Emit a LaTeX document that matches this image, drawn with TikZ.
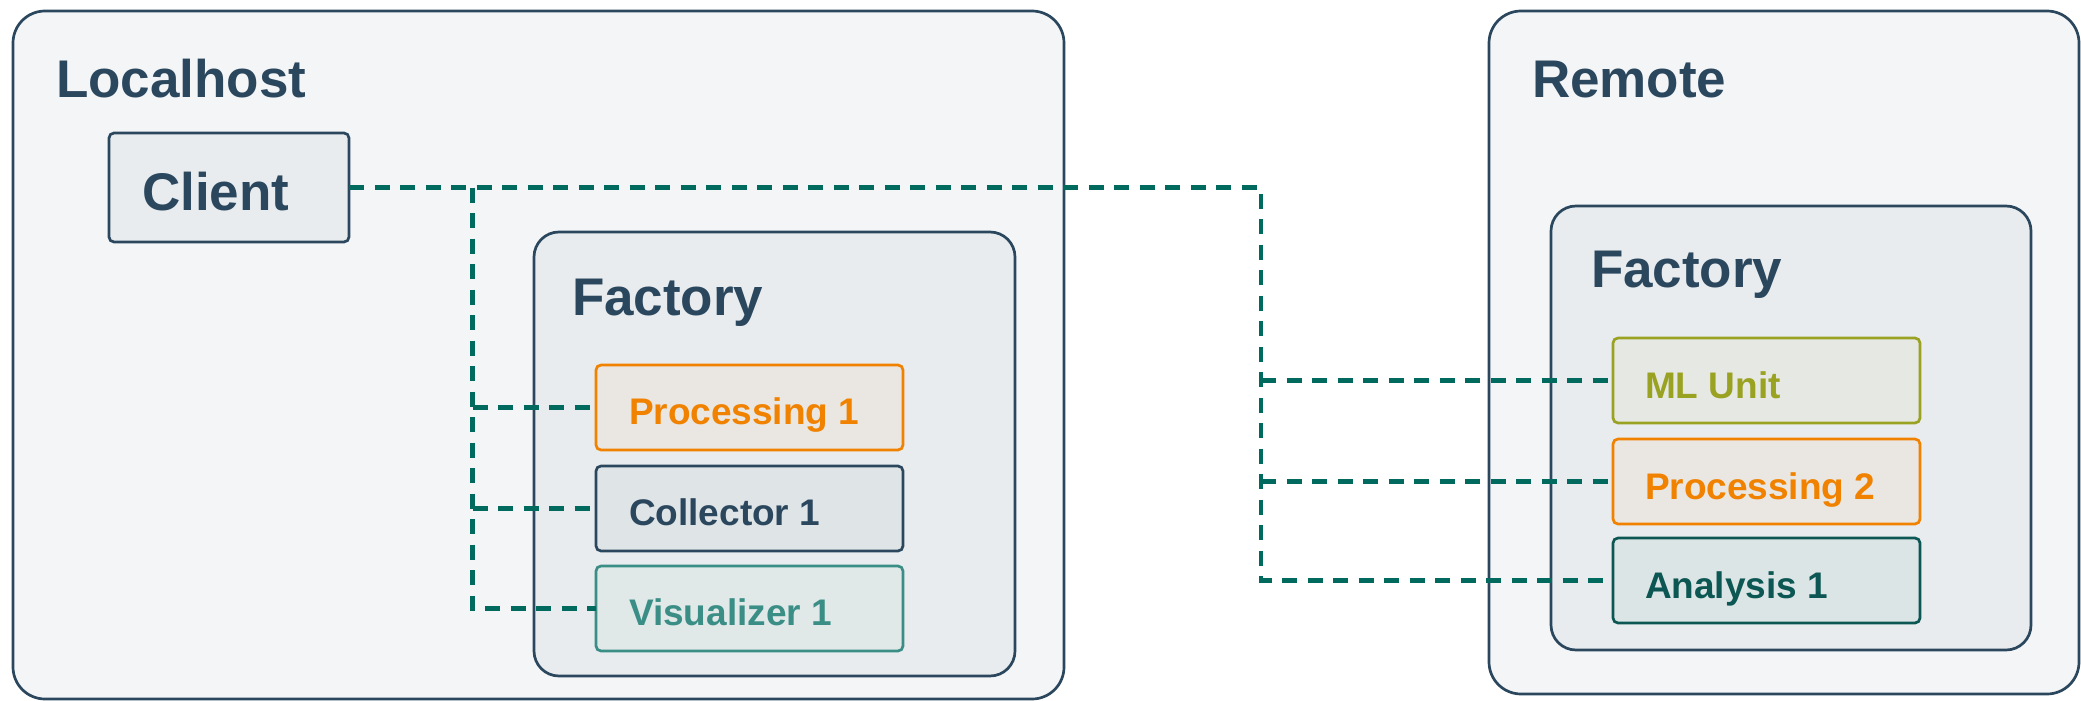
\documentclass[tikz,border=0pt]{standalone}
\usepackage{fontspec}
\setmainfont{Liberation Sans}
\usetikzlibrary{calc}

\definecolor{slate}{HTML}{2B475E}
\definecolor{hostfill}{HTML}{F4F5F7}
\definecolor{factfill}{HTML}{E8ECEF}
\definecolor{linkcol}{HTML}{006A5F}
\definecolor{procline}{HTML}{F08200}
\definecolor{procfill}{HTML}{EAE6E2}
\definecolor{collfill}{HTML}{DFE4E7}
\definecolor{visline}{HTML}{3A8E85}
\definecolor{visfill}{HTML}{E0E8E8}
\definecolor{mlline}{HTML}{9AA221}
\definecolor{mlfill}{HTML}{E6E8E4}
\definecolor{anline}{HTML}{0C5753}
\definecolor{anfill}{HTML}{DCE5E6}

\begin{document}
\begin{tikzpicture}[x=1pt,y=-1pt,
  every node/.style={inner sep=0pt, outer sep=0pt},
  hostbox/.style={rectangle, draw=slate, fill=hostfill, line width=2.7pt, rounded corners=32pt},
  factorybox/.style={rectangle, draw=slate, fill=factfill, line width=2.7pt, rounded corners=25pt},
  clientbox/.style={rectangle, draw=slate, fill=factfill, line width=2.7pt, rounded corners=5pt},
  unitbox/.style={rectangle, line width=2.7pt, rounded corners=5pt,
    minimum width=307pt, minimum height=85pt},
  title/.style={anchor=base west, text=slate, font=\fontsize{53}{60}\selectfont\bfseries},
  unitlabel/.style={anchor=base west, font=\fontsize{37}{44}\selectfont\bfseries},
  link/.style={draw=linkcol, line width=4.2pt, dash pattern=on 15pt off 10.5pt}
]
\useasboundingbox (0,0) rectangle (2081,701);

% hosts
\node[hostbox, minimum width=1051pt, minimum height=688pt] (local) at (538.5,355) {};
\node[hostbox, minimum width=590pt, minimum height=683pt] (remote) at (1784,352.5) {};
\node[title] (localtitle) at ($(local.north west)+(43,86)$) {Localhost};
\node[title] (remotetitle) at ($(remote.north west)+(43,86)$) {Remote};

% client
\node[clientbox, minimum width=240pt, minimum height=109pt] (client) at (229,187.5) {};
\node[title] (clienttitle) at ($(client.north west)+(33,77)$) {Client};

% factories
\node[factorybox, minimum width=481pt, minimum height=444pt] (lfact) at (774.5,454) {};
\node[title] (lfacttitle) at ($(lfact.north west)+(38,83)$) {Factory};
\node[factorybox, minimum width=480pt, minimum height=444pt] (rfact) at (1791,428) {};
\node[title] (rfacttitle) at ($(rfact.north west)+(40,81)$) {Factory};

% bus lines
\coordinate (lbus) at (472.5,0);
\coordinate (rbus) at (1261,0);

% local units
\node[unitbox, draw=procline, fill=procfill] (p1) at (749.5,407.5) {};
\node[unitbox, draw=slate, fill=collfill] (c1) at (749.5,508.5) {};
\node[unitbox, draw=visline, fill=visfill] (v1) at (749.5,608.5) {};
% remote units
\node[unitbox, draw=mlline, fill=mlfill] (ml) at (1766.5,380.5) {};
\node[unitbox, draw=procline, fill=procfill] (p2) at (1766.5,481.5) {};
\node[unitbox, draw=anline, fill=anfill] (a1) at (1766.5,580.5) {};

% connectors
\draw[link] (client.east) -- (rbus |- client.east) -- (rbus |- a1.west) -- (a1.west);
\draw[link] (lbus |- client.east) -- (lbus |- v1.west) -- (v1.west);
\draw[link] (lbus |- p1.west) -- (p1.west);
\draw[link] (lbus |- c1.west) -- (c1.west);
\draw[link] (rbus |- ml.west) -- (ml.west);
\draw[link] (rbus |- p2.west) -- (p2.west);

% unit labels
\node[unitlabel, text=procline] (p1t) at ($(p1.north west)+(33,59)$) {Processing 1};
\node[unitlabel, text=slate] (c1t) at ($(c1.north west)+(33,59)$) {Collector 1};
\node[unitlabel, text=visline] (v1t) at ($(v1.north west)+(33,59)$) {Visualizer 1};
\node[unitlabel, text=mlline] (mlt) at ($(ml.north west)+(32,60)$) {ML Unit};
\node[unitlabel, text=procline] (p2t) at ($(p2.north west)+(32,60)$) {Processing 2};
\node[unitlabel, text=anline] (a1t) at ($(a1.north west)+(32,60)$) {Analysis 1};
\end{tikzpicture}
\end{document}
